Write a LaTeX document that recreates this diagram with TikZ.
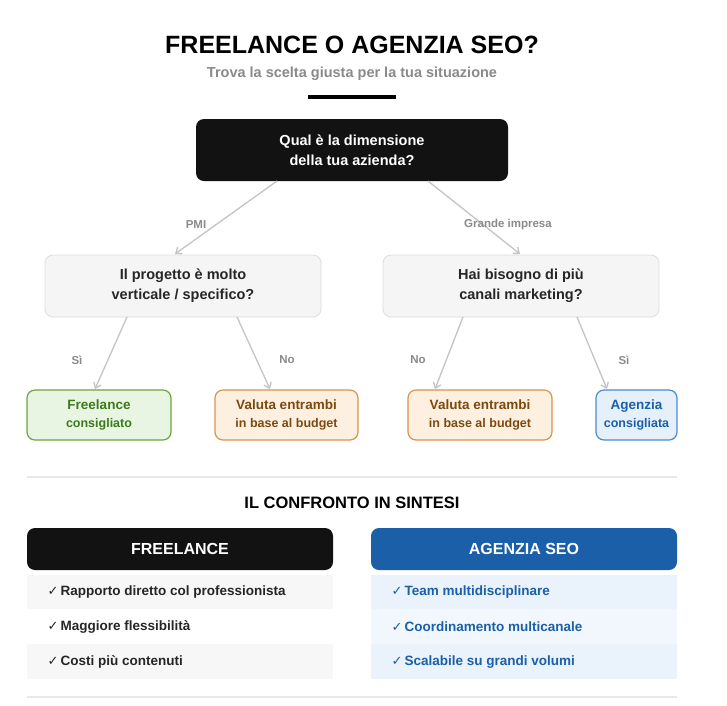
\documentclass[tikz,border=0pt]{standalone}
\usepackage{fontspec}
\setmainfont{Liberation Sans}
\newfontfamily\symf{DejaVu Sans}
\usetikzlibrary{arrows.meta}
\definecolor{gline}{HTML}{C4C4C4}
\definecolor{glab}{HTML}{8A8A8A}
\definecolor{nfill}{HTML}{F5F5F5}
\definecolor{nbord}{HTML}{DDDDDD}
\definecolor{grF}{HTML}{E8F5E3}\definecolor{grB}{HTML}{6AA83A}\definecolor{grT}{HTML}{3D7A1A}
\definecolor{orF}{HTML}{FDF0E0}\definecolor{orB}{HTML}{D9954A}\definecolor{orT}{HTML}{7A4A10}
\definecolor{blF}{HTML}{E6F0FB}\definecolor{blB}{HTML}{4A8AD8}\definecolor{blT}{HTML}{1A5FA8}
\definecolor{hdB}{HTML}{1A5FA8}
\definecolor{rowA}{HTML}{F7F7F7}\definecolor{rowB}{HTML}{EAF2FB}\definecolor{rowC}{HTML}{F2F7FD}
\definecolor{divc}{HTML}{E8E8E8}
\tikzset{
 q/.style={rounded corners=8pt,fill=nfill,draw=nbord,line width=0.8pt,minimum width=276pt,minimum height=62pt,align=center,font=\bfseries\fontsize{14.5}{20}\selectfont,text=black!85},
 leaf/.style={rounded corners=8pt,line width=1.2pt,minimum height=50pt,align=center,font=\bfseries\fontsize{13.5}{20}\selectfont},
 sub/.style={font=\fontsize{12}{14}\selectfont},
 edge/.style={gline,line width=1.3pt,-{Straight Barb[length=5pt,width=8pt]}},
 elab/.style={text=glab,font=\bfseries\fontsize{11.5}{13}\selectfont},
 hdr/.style={rounded corners=8pt,minimum width=306pt,minimum height=42pt,text=white,font=\bfseries\fontsize{16}{18}\selectfont},
 item/.style={anchor=west,font=\bfseries\fontsize{13.5}{15}\selectfont},
}
\newcommand{\ck}{{\symf\bfseries\fontsize{13}{13}\selectfont ✓}\,}
\begin{document}
\begin{tikzpicture}[x=1pt,y=-1pt]
\useasboundingbox (0,0) rectangle (727,705);
\fill[white] (0,0) rectangle (727,705);
\node[font=\bfseries\fontsize{25}{28}\selectfont] (title) at (352,45) {FREELANCE O AGENZIA SEO?};
\node[text=glab,font=\bfseries\fontsize{14.5}{16}\selectfont] (subt) at (352,74) {Trova la scelta giusta per la tua situazione};
\fill[black] (308,95) rectangle (396,98.5);
\node[rounded corners=8pt,fill=black!93,minimum width=312pt,minimum height=62pt,text=white,align=center,font=\bfseries\fontsize{14.5}{20}\selectfont] (root) at (352,150) {Qual è la dimensione\\della tua azienda?};
\node[q] (L) at (183,286) {Il progetto è molto\\verticale / specifico?};
\node[q] (R) at (521,286) {Hai bisogno di più\\canali marketing?};
\node[leaf,fill=grF,draw=grB,text=grT,minimum width=144pt] (l1) at (99,415) {Freelance\\[-2pt]{\fontsize{12.5}{14}\selectfont consigliato}};
\node[leaf,fill=orF,draw=orB,text=orT,minimum width=143pt] (l2) at (286.5,415) {Valuta entrambi\\[-2pt]{\fontsize{12.5}{14}\selectfont in base al budget}};
\node[leaf,fill=orF,draw=orB,text=orT,minimum width=144pt] (l3) at (480,415) {Valuta entrambi\\[-2pt]{\fontsize{12.5}{14}\selectfont in base al budget}};
\node[leaf,fill=blF,draw=blB,text=blT,minimum width=81pt] (l4) at (636.5,415) {Agenzia\\[-2pt]{\fontsize{12.5}{14}\selectfont consigliata}};
\coordinate (r1) at (277,181);\coordinate (r2) at (428,181);
\draw[edge] (r1) -- (175,254);
\draw[edge] (r2) -- (520,254);
\node[elab] (pmi) at (196,225) {PMI};
\node[elab] (gi) at (508,225) {Grande impresa};
\draw[edge] (127,317) -- (95,389);
\draw[edge] (237,317) -- (270,389);
\draw[edge] (463,317) -- (435,389);
\draw[edge] (577,317) -- (607,389);
\node[elab] (s1) at (77,360) {Sì};
\node[elab] (n1) at (287,360) {No};
\node[elab] (n2) at (418,360) {No};
\node[elab] (s2) at (624,360) {Sì};
\draw[divc,line width=1.5pt] (27,477) -- (677,477);
\node[font=\bfseries\fontsize{16.5}{18}\selectfont] (conf) at (352,503) {IL CONFRONTO IN SINTESI};
\node[hdr,fill=black!93] (hf) at (180,549) {FREELANCE};
\node[hdr,fill=hdB] (ha) at (524,549) {AGENZIA SEO};
\fill[rowA] (27,575) rectangle (333,609);
\fill[rowA] (27,644) rectangle (333,679);
\fill[rowB] (371,575) rectangle (677,609);
\fill[rowC] (371,609) rectangle (677,644);
\fill[rowB] (371,644) rectangle (677,679);
\node[item,text=black!85] (f1) at (44,592) {\ck Rapporto diretto col professionista};
\node[item,text=black!85] (f2) at (44,627) {\ck Maggiore flessibilità};
\node[item,text=black!85] (f3) at (44,662) {\ck Costi più contenuti};
\node[item,text=blT] (a1) at (388,592) {\ck Team multidisciplinare};
\node[item,text=blT] (a2) at (388,627) {\ck Coordinamento multicanale};
\node[item,text=blT] (a3) at (388,662) {\ck Scalabile su grandi volumi};
\draw[divc,line width=1.5pt] (27,697) -- (677,697);
\end{tikzpicture}
\end{document}
